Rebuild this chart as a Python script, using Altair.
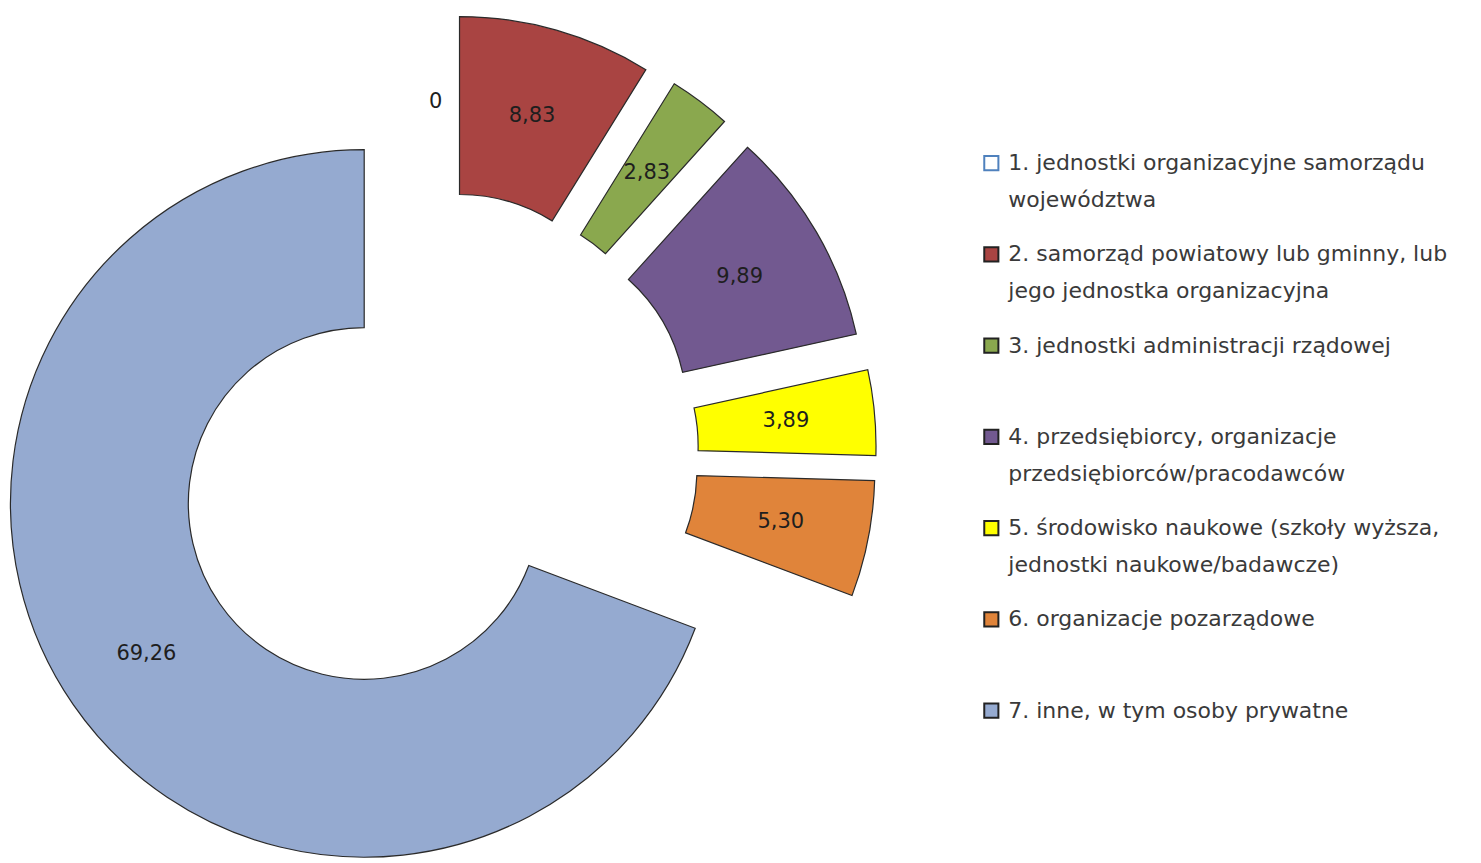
import altair as alt
import pandas as pd

# ---- data ----
legend_lines = [
    ["1. jednostki organizacyjne samorządu", "województwa"],
    ["2. samorząd powiatowy lub gminny, lub", "jego jednostka organizacyjna"],
    ["3. jednostki administracji rządowej"],
    ["4. przedsiębiorcy, organizacje", "przedsiębiorców/pracodawców"],
    ["5. środowisko naukowe (szkoły wyższa,", "jednostki naukowe/badawcze)"],
    ["6. organizacje pozarządowe"],
    ["7. inne, w tym osoby prywatne"],
]
values = [0, 8.83, 2.83, 9.89, 3.89, 5.30, 69.26]

# ---- styles ----
fill_colors = ["#FFFFFF", "#A94442", "#8AA84E", "#725990", "#FFFF00", "#E0843A", "#95AAD0"]
legend_strokes = ["#4F81BD", "#222222", "#222222", "#222222", "#222222", "#222222", "#222222"]

CX, CY = 422, 446          # pie centre (chart coords)
R_OUT, R_IN = 354, 176     # ring radii
EXPLODE = 87               # explosion distance for every slice
LABEL_R = (R_OUT + R_IN) / 2
LEG_X, LEG_Y0, LEG_STEP = 978, 155, 91.3
FONT = "DejaVu Sans"

categories = [" ".join(l) for l in legend_lines]
df = pd.DataFrame({
    "order": list(range(len(values))),
    "cat": categories,
    "value": values,
    "lines": legend_lines,
})

color_scale = alt.Scale(domain=categories, range=fill_colors)
stroke_scale = alt.Scale(domain=categories, range=legend_strokes)

base = (
    alt.Chart(df)
    .transform_joinaggregate(total="sum(value)")
    .transform_window(cum="sum(value)", sort=[alt.SortField("order")], frame=[None, 0])
    .transform_calculate(
        t1="datum.cum / datum.total * 2 * PI",
        t0="(datum.cum - datum.value) / datum.total * 2 * PI",
    )
    .transform_calculate(mid="(datum.t0 + datum.t1) / 2")
    .transform_calculate(
        cx=f"{CX} + {EXPLODE} * sin(datum.mid)",
        cy=f"{CY} - {EXPLODE} * cos(datum.mid)",
    )
    .transform_calculate(
        lx=f"datum.cx + {LABEL_R} * sin(datum.mid)",
        ly=f"datum.cy - {LABEL_R} * cos(datum.mid)",
        vlabel="datum.value == 0 ? '0' : replace(format(datum.value, '.2f'), '.', ',')",
        legy=f"{LEG_Y0} + {LEG_STEP} * datum.order",
    )
)

arcs = base.transform_filter("datum.value > 0").mark_arc(
    innerRadius=R_IN, outerRadius=R_OUT, stroke="#2a2a2a", strokeWidth=1.2
).encode(
    theta=alt.Theta("t0:Q", scale=None, stack=None),
    theta2="t1:Q",
    x=alt.X("cx:Q", scale=None),
    y=alt.Y("cy:Q", scale=None),
    color=alt.Color("cat:N", scale=color_scale, legend=None),
)

labels = base.mark_text(fontSize=21, font=FONT, color="#1e1e1e").encode(
    x=alt.X("lx:Q", scale=None),
    y=alt.Y("ly:Q", scale=None),
    text="vlabel:N",
)

leg_sym = base.mark_square(size=200, opacity=1, strokeWidth=2).encode(
    x=alt.value(LEG_X),
    y=alt.Y("legy:Q", scale=None),
    fill=alt.Fill("cat:N", scale=color_scale, legend=None),
    stroke=alt.Stroke("cat:N", scale=stroke_scale, legend=None),
)

leg_text = base.mark_text(
    align="left", baseline="middle", fontSize=22, font=FONT, lineHeight=37, color="#3a3a3a"
).encode(
    x=alt.value(LEG_X + 17),
    y=alt.Y("legy:Q", scale=None),
    text="lines:N",
)

chart = (
    alt.layer(arcs, labels, leg_sym, leg_text)
    .properties(width=1460, height=840, padding=0, background="white")
    .configure_view(stroke=None)
)

chart.save("out.html", embed_options={"renderer": "svg", "actions": False})
